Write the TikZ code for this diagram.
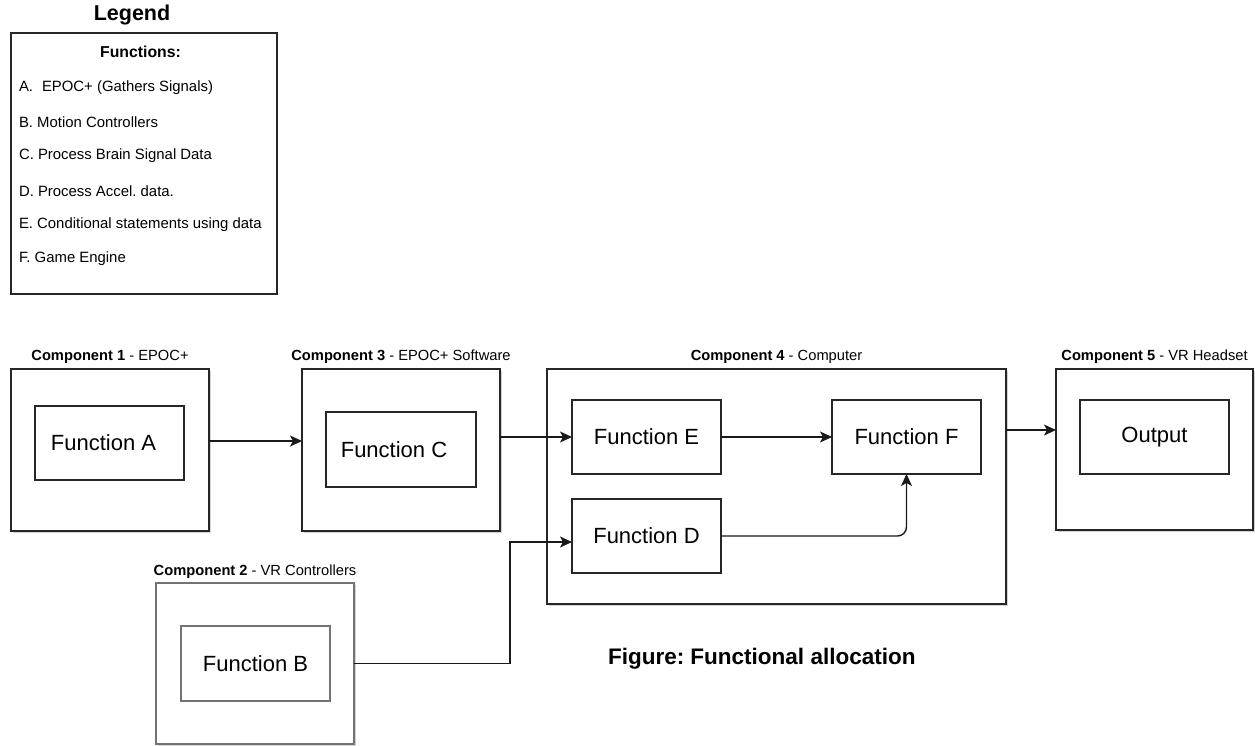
\documentclass[tikz,border=0pt]{standalone}
\usepackage{fontspec}
\setmainfont{Liberation Sans}
\usetikzlibrary{arrows.meta,shadows}
\frenchspacing
\begin{document}
\begin{tikzpicture}[x=1pt,y=-1pt,
  every node/.style={inner sep=0pt,outer sep=0pt},
  comp/.style={draw=black!85,line width=1.3pt,fill=white,
    drop shadow={shadow xshift=1.6pt,shadow yshift=-1.6pt,opacity=0.35},
    minimum width=198pt,minimum height=162pt},
  grayc/.style={comp,draw=black!55,line width=1.6pt},
  func/.style={draw=black!85,line width=1.2pt,fill=white,
    minimum width=149pt,minimum height=74pt,
    font=\fontsize{22}{26}\selectfont},
  grayf/.style={func,draw=black!55,line width=1.6pt},
  clabel/.style={font=\fontsize{14.7}{17}\selectfont},
  litem/.style={anchor=west,font=\fontsize{14.9}{17}\selectfont},
  tipstyle/.tip={Stealth[length=12pt,width=11pt,inset=3pt]},
  arr/.style={line width=1.4pt,draw=black!90,-tipstyle},
  conn/.style={line width=1.4pt,draw=black!90}
]
\useasboundingbox (0,0) rectangle (1255,746);
\fill[white] (0,0) rectangle (1255,746);

% Legend
\node[font=\fontsize{21.5}{25}\selectfont\bfseries] (legtitle) at (132,15) {Legend};
\node[draw=black!85,line width=1.2pt,minimum width=266pt,minimum height=261pt] (legend) at (144,163.5) {};
\node[font=\fontsize{15.8}{19}\selectfont\bfseries] (legfun) at (140.5,52) {Functions:};
\node[litem] (la) at (19,88) {A.\hspace{0.6em}EPOC+ (Gathers Signals)};
\node[litem] (lb) at (19,122) {B. Motion Controllers};
\node[litem] (lc) at (19,156) {C. Process Brain Signal Data};
\node[litem] (ld) at (19,191) {D. Process Accel. data.};
\node[litem] (le) at (19,225) {E. Conditional statements using data};
\node[litem] (lf) at (19,259) {F. Game Engine};

% Components
\node[comp] (comp1) at (110,450) {};
\node[func] (funcA) at (109.5,443) {\hspace{-12pt}Function A};
\node[clabel] (lab1) at ([yshift=12pt]comp1.north) {\textbf{Component 1} - EPOC+};

\node[comp] (comp3) at (401,450) {};
\node[func,minimum width=150pt,minimum height=75pt] (funcC) at (401,449.5) {\hspace{-14pt}Function C};
\node[clabel] (lab3) at ([yshift=12pt]comp3.north) {\textbf{Component 3} - EPOC+ Software};

\node[comp,minimum width=459pt,minimum height=235pt] (comp4) at (776.5,486.5) {};
\node[func] (funcE) at (646.5,437) {Function E};
\node[func] (funcF) at (906.5,437) {Function F};
\node[func] (funcD) at (646.5,536) {Function D};
\node[clabel] (lab4) at ([yshift=12pt]comp4.north) {\textbf{Component 4} - Computer};

\node[comp,minimum width=197pt,minimum height=161pt] (comp5) at (1154.5,449.5) {};
\node[func] (out) at (1154.5,437) {Output};
\node[clabel] (lab5) at ([yshift=12.5pt]comp5.north) {\textbf{Component 5} - VR Headset};

\node[grayc,minimum height=161pt] (comp2) at (255,663.5) {};
\node[grayf,minimum height=75pt] (funcB) at (255.5,663.5) {Function B};
\node[clabel] (lab2) at ([yshift=11.5pt]comp2.north) {\textbf{Component 2} - VR Controllers};

% Caption
\node[anchor=west,font=\fontsize{22.5}{26}\selectfont\bfseries] (caption) at (608,659) {Figure: Functional allocation};

% Connectors
\coordinate (aOut) at ([yshift=9pt]comp1.east);
\draw[arr] (aOut) -- (comp3.west |- aOut);
\draw[arr] (comp3.east |- funcE.west) -- (funcE.west);
\draw[arr] (funcE.east) -- (funcF.west);
\draw[arr,rounded corners=9pt] (funcD.east) -| (funcF.south);
\coordinate (cIn) at ([yshift=19.5pt]comp5.west);
\draw[arr] (comp4.east |- cIn) -- (cIn);
\coordinate (dIn) at ([yshift=-6pt]funcD.west);
\coordinate (bend) at (510,0);
\draw[arr] (comp2.east) -| (bend |- dIn) -- (dIn);
\end{tikzpicture}
\end{document}
